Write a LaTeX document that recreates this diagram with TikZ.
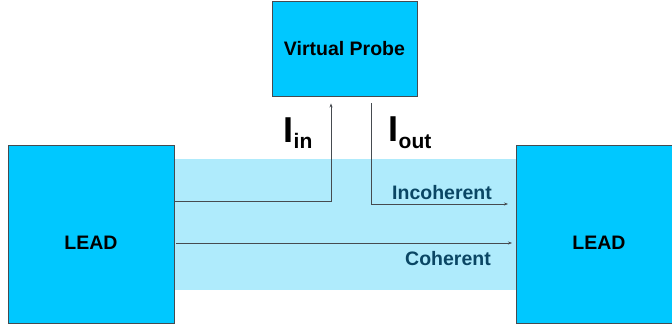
\documentclass[tikz,border=0pt]{standalone}
\usepackage{fontspec}
\setmainfont{Liberation Sans}
\usetikzlibrary{arrows.meta}

\definecolor{leadcyan}{RGB}{0,200,255}
\definecolor{bandblue}{RGB}{175,235,252}
\definecolor{edgegray}{RGB}{70,75,80}
\definecolor{labelteal}{RGB}{10,70,100}

\tikzset{
  box/.style={draw=edgegray,fill=leadcyan,line width=0.9pt,inner sep=0pt,
    font=\bfseries\fontsize{19.5}{22}\selectfont},
  flow/.style={draw=edgegray,line width=0.9pt,-{Stealth[length=4pt,width=3pt]}},
  flowlabel/.style={text=labelteal,font=\bfseries\fontsize{19.5}{22}\selectfont},
  current/.style={font=\bfseries\fontsize{36}{40}\selectfont}
}

\begin{document}
\begin{tikzpicture}[x=1pt,y=-1pt]
\useasboundingbox (0,0) rectangle (672,326);
    % channel between the two leads
\fill[bandblue] (174,159) rectangle (516,290);
\node[box,minimum width=166pt,minimum height=178pt,
  label={[font=\bfseries\fontsize{19.5}{22}\selectfont,yshift=-9pt]center:LEAD}] (leadL) at (91,234) {};
\node[box,minimum width=166pt,minimum height=178pt,
  label={[font=\bfseries\fontsize{19.5}{22}\selectfont,yshift=-9pt]center:LEAD}] (leadR) at (599,234) {};
\node[box,minimum width=145pt,minimum height=95pt] (probe) at (344.5,48.5) {Virtual Probe};
    % paths through the probe and past it
\coordinate (inturn) at (331,201);
\coordinate (outturn) at (371,204);
\coordinate (outend) at (508,204);
\coordinate (cohstart) at (176,243);
\coordinate (cohend) at (512,243);
\draw[flow] (leadL.east |- inturn) -- (inturn) -- ([yshift=-7pt]inturn |- probe.south);
\draw[flow] ([yshift=-7pt]outturn |- probe.south) -- (outturn) -- (outend);
\draw[flow] (cohstart) -- (cohend);
\node[current] (iin) at (298,133) {I\raisebox{-0.35ex}{\fontsize{21}{24}\selectfont in}};
\node[current] (iout) at (410,133) {I\raisebox{-0.35ex}{\fontsize{21}{24}\selectfont out}};
\node[flowlabel] (incoh) at (442,193) {Incoherent};
\node[flowlabel] (coh) at (448,259) {Coherent};
\end{tikzpicture}
\end{document}
